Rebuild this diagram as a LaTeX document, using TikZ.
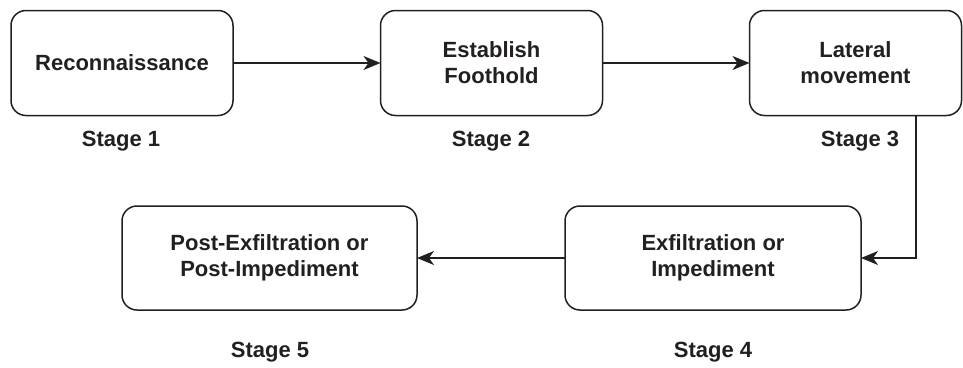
\documentclass[tikz,border=0pt]{standalone}
\usepackage{fontspec}
\setmainfont{Liberation Sans}
\usetikzlibrary{arrows.meta}
\definecolor{ink}{HTML}{231F20}
\tikzset{
  stagebox/.style={draw=ink, line width=1.5pt, rounded corners=15pt, align=center,
    inner sep=0pt, outer sep=0pt, text=ink,
    font=\fontsize{22}{26}\selectfont\bfseries},
  stagelabel/.style={text=ink, inner sep=0pt, font=\fontsize{22}{26}\selectfont\bfseries},
  flow/.style={draw=ink, line width=1.5pt, -{Stealth[length=17pt,width=14pt,inset=5pt]}}
}
\begin{document}
\begin{tikzpicture}[x=1pt,y=-1pt]
\useasboundingbox (0,0) rectangle (963,367);
\node[stagebox, minimum width=222pt, minimum height=105pt] (b1) at (122,63) {Reconnaissance};
\node[stagebox, minimum width=222pt, minimum height=105pt] (b2) at (491.5,63) {Establish\\Foothold};
\node[stagebox, minimum width=212pt, minimum height=105pt] (b3) at (855.5,63) {Lateral\\movement};
\node[stagebox, minimum width=296pt, minimum height=104pt] (b4) at (713,258) {Exfiltration or\\Impediment};
\node[stagebox, minimum width=295pt, minimum height=104pt] (b5) at (269.5,258) {Post-Exfiltration or\\Post-Impediment};
\node[stagelabel] (s1) at (121,141) {Stage 1};
\node[stagelabel] (s2) at (491,141) {Stage 2};
\node[stagelabel] (s3) at (860,141) {Stage 3};
\node[stagelabel] (s4) at (713,352) {Stage 4};
\node[stagelabel] (s5) at (270,352) {Stage 5};
\coordinate (turn) at (916,258);
\draw[flow] (b1.east) -- (b2.west);
\draw[flow] (b2.east) -- (b3.west);
\draw[flow] (b3.south -| turn) -- (turn) -- (b4.east);
\draw[flow] (b4.west) -- (b5.east);
\end{tikzpicture}
\end{document}
